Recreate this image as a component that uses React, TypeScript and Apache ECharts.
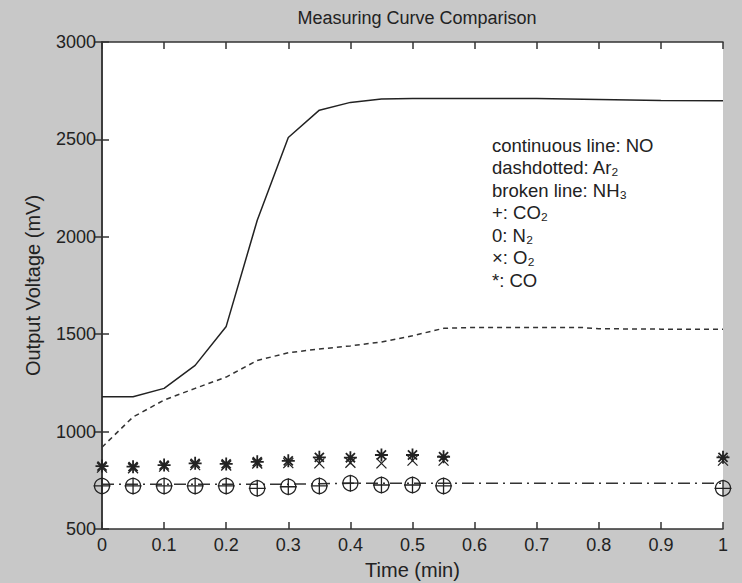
import React, { useEffect, useRef } from "react";
import * as echarts from "echarts";

const title = "Measuring Curve Comparison";
const xLabel = "Time (min)";
const yLabel = "Output Voltage (mV)";

// Continuous line: NO
const noX = [0, 0.05, 0.1, 0.15, 0.2, 0.25, 0.3, 0.35, 0.4, 0.45, 0.5, 0.55, 0.6, 0.7, 0.8, 0.9, 1];
const noY = [1179, 1179, 1222, 1340, 1540, 2085, 2510, 2650, 2690, 2708, 2710, 2710, 2710, 2710, 2705, 2700, 2698];

// Broken line: NH3
const nh3X = [0, 0.05, 0.1, 0.15, 0.2, 0.25, 0.3, 0.35, 0.4, 0.45, 0.5, 0.55, 0.6, 0.7, 0.77, 0.8, 0.9, 1];
const nh3Y = [920, 1075, 1162, 1222, 1280, 1365, 1405, 1424, 1440, 1460, 1492, 1530, 1535, 1535, 1535, 1528, 1526, 1525];

// Dashdotted: Ar2
const arX = [0, 0.05, 0.1, 0.15, 0.2, 0.25, 0.3, 0.35, 0.4, 0.45, 0.5, 0.55, 0.6, 0.7, 0.8, 0.9, 1];
const arY = [730, 730, 730, 730, 730, 730, 730, 732, 735, 735, 735, 735, 735, 735, 735, 735, 735];

// Marker series
const markX = [0, 0.05, 0.1, 0.15, 0.2, 0.25, 0.3, 0.35, 0.4, 0.45, 0.5, 0.55, 1];
const coY = [823, 820, 828, 837, 834, 845, 850, 868, 866, 880, 880, 871, 868];
const o2Y = [815, 812, 820, 828, 826, 836, 838, 837, 840, 837, 851, 851, 851];
const n2Y = [721, 721, 721, 721, 721, 709, 717, 721, 735, 726, 726, 721, 709];
const co2Y = [721, 721, 721, 721, 721, 709, 717, 721, 735, 726, 726, 721, 709];

const legendLines = [
  "continuous line: NO",
  "dashdotted: Ar₂",
  "broken line: NH₃",
  "+: CO₂",
  "0: N₂",
  "×: O₂",
  "*: CO",
];

const FONT = "'Liberation Sans', Arial, sans-serif";
const INK = "#222";

const pair = (xs: number[], ys: number[]) => xs.map((x, i) => [x, ys[i]]);

const plusPath = "path://M5,0 L5,10 M0,5 L10,5";
const crossPath = "path://M0,0 L10,10 M10,0 L0,10";
const starPath = "path://M5,0 L5,10 M0,5 L10,5 M1.5,1.5 L8.5,8.5 M8.5,1.5 L1.5,8.5";

export default function App() {
  const ref = useRef<HTMLDivElement>(null);
  useEffect(() => {
    if (!ref.current) return;
    const chart = echarts.init(ref.current, undefined, { renderer: "svg" });
    const axisCommon = {
      axisLine: { show: true, lineStyle: { color: "#333", width: 1.5 } },
      axisTick: { show: true, inside: true, length: 7, lineStyle: { color: "#333", width: 1.5 } },
      splitLine: { show: false },
    };
    const markerSeries = (name: string, ys: number[], symbol: string, size: number, bw: number) => ({
      name,
      type: "line",
      data: pair(markX, ys),
      symbol,
      symbolSize: size,
      showSymbol: true,
      clip: false,
      lineStyle: { opacity: 0 },
      itemStyle: { color: "none", borderColor: INK, borderWidth: bw },
      z: 5,
    });
    chart.setOption({
      animation: false,
      backgroundColor: "#c8c8c8",
      title: {
        text: title,
        left: 412,
        top: 4,
        textAlign: "center",
        textStyle: { fontFamily: FONT, fontSize: 18, fontWeight: "normal", color: "#222" },
      },
      grid: {
        left: 102,
        right: 19,
        top: 42,
        bottom: 54,
        containLabel: false,
        outerBoundsMode: "none",
        show: true,
        backgroundColor: "#ffffff",
        borderWidth: 0,
      },
      xAxis: [
        {
          type: "value",
          min: 0,
          max: 1,
          interval: 0.1,
          position: "bottom",
          name: xLabel,
          nameLocation: "middle",
          nameGap: 31,
          nameTextStyle: { fontFamily: FONT, fontSize: 20, color: "#222" },
          axisLabel: { fontFamily: FONT, fontSize: 18, color: "#222", margin: 7 },
          ...axisCommon,
        },
        {
          type: "value",
          min: 0,
          max: 1,
          interval: 0.1,
          position: "top",
          axisLabel: { show: false },
          ...axisCommon,
        },
      ],
      yAxis: [
        {
          type: "value",
          min: 500,
          max: 3000,
          interval: 500,
          position: "left",
          name: yLabel,
          nameLocation: "middle",
          nameGap: 59,
          nameTextStyle: { fontFamily: FONT, fontSize: 20, color: "#222" },
          axisLabel: {
            fontFamily: FONT,
            fontSize: 18,
            color: "#222",
            margin: 6,
            formatter: (v: number) => String(v),
          },
          ...axisCommon,
        },
        {
          type: "value",
          min: 500,
          max: 3000,
          interval: 500,
          position: "right",
          axisLabel: { show: false },
          ...axisCommon,
        },
      ],
      graphic: legendLines.map((t, i) => ({
        type: "text",
        x: 492,
        y: 145 + i * 22.5,
        style: {
          text: t,
          fontFamily: FONT,
          fontSize: 18.5,
          fill: "#222",
          verticalAlign: "middle",
        },
        z: 10,
      })),
      series: [
        {
          name: "NO",
          type: "line",
          data: pair(noX, noY),
          showSymbol: false,
          lineStyle: { color: INK, width: 1.5, type: "solid" },
        },
        {
          name: "NH3",
          type: "line",
          data: pair(nh3X, nh3Y),
          showSymbol: false,
          lineStyle: { color: "#333", width: 1.5, type: [5, 4] },
        },
        {
          name: "Ar2",
          type: "line",
          data: pair(arX, arY),
          showSymbol: false,
          lineStyle: { color: "#333", width: 1.5, type: [12, 5, 2, 5] },
        },
        markerSeries("N2", n2Y, "circle", 15, 1.3),
        markerSeries("CO2", co2Y, plusPath, 17, 1.3),
        markerSeries("O2", o2Y, crossPath, 10, 1.3),
        markerSeries("CO", coY, starPath, 13, 1.8),
      ],
    });
    return () => chart.dispose();
  }, []);
  return (
    <div
      ref={ref}
      style={{ position: "absolute", left: 0, top: 0, width: 742, height: 583 }}
    />
  );
}
